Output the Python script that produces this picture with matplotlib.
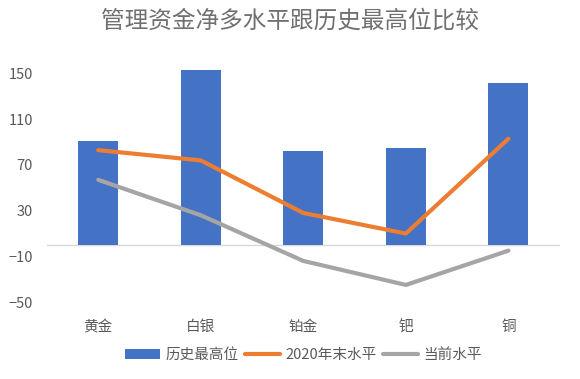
import numpy as np
import matplotlib.pyplot as plt

plt.rcParams['font.family'] = ['Noto Sans CJK SC', 'DejaVu Sans']

categories = ["黄金", "白银", "铂金", "钯", "铜"]
hist_high = [91, 153, 82, 85, 142]
end_2020 = [83, 74, 28, 10, 93]
current = [57, 26, -14, -35, -5]
yticks = [-50, -10, 30, 70, 110, 150]

text_color = "#595959"

fig = plt.figure(figsize=(5.8, 3.79), dpi=100)
ax = fig.add_axes([0.081, 0.203, 0.884, 0.648])

x = np.arange(len(categories))
bars = ax.bar(x, hist_high, width=0.39, color="#4472C4", label="历史最高位", zorder=2)
l1, = ax.plot(x, end_2020, color="#ED7D31", lw=3, label="2020年末水平", zorder=3,
              solid_capstyle="round", solid_joinstyle="round")
l2, = ax.plot(x, current, color="#A5A5A5", lw=3, label="当前水平", zorder=3,
              solid_capstyle="round", solid_joinstyle="round")

ax.axhline(0, color="#D9D9D9", lw=1, zorder=1)
ax.set_xlim(-0.5, len(categories) - 0.5)
ax.set_ylim(-50, 165)
ax.set_yticks(yticks)
ax.set_xticks(x)
ax.set_xticklabels(categories)
ax.tick_params(axis="y", length=0, pad=10, labelsize=10.5, labelcolor=text_color)
ax.tick_params(axis="x", length=0, pad=13, labelsize=10.5, labelcolor=text_color)
for s in ax.spines.values():
    s.set_visible(False)

fig.text(0.5, 0.945, "管理资金净多水平跟历史最高位比较", ha="center", va="center",
         fontsize=17, color="#707070")

ax.legend(handles=[bars, l1, l2], loc="center", bbox_to_anchor=(0.5, -0.215),
          ncol=3, frameon=False, fontsize=10.5, labelcolor=text_color,
          handlelength=2.4, handletextpad=0.4, columnspacing=0.4)

fig.savefig("out.png", dpi=100)
